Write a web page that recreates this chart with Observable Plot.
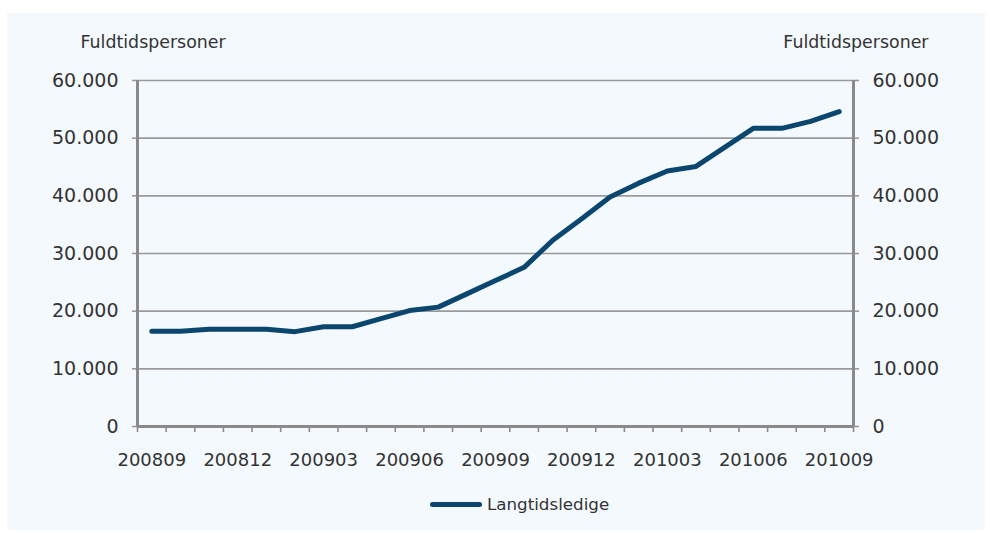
<!DOCTYPE html>
<html>
<head>
<meta charset="utf-8">
<script src="https://cdn.jsdelivr.net/npm/d3@7"></script>
<script src="https://cdn.jsdelivr.net/npm/@observablehq/plot@0.6"></script>
<style>
  html, body { margin: 0; padding: 0; background: #ffffff; }
  #wrap { position: relative; width: 990px; height: 533px; font-family: "DejaVu Sans", sans-serif; color: #333; }
  #panel { position: absolute; left: 7px; top: 13px; width: 978px; height: 517px; background: #f4f9fd; }
  #chart { position: absolute; left: 0; top: 0; }
  #legend { position: absolute; left: 430px; top: 494px; display: flex; align-items: center; font-size: 16.7px; color: #333; }
  #legend .sw { display: inline-block; width: 52px; height: 5px; border-radius: 3px; background: #0b466e; margin-right: 5px; }
</style>
</head>
<body>
<div id="wrap">
  <div id="panel"></div>
  <div id="chart"></div>
  <div id="legend"><span class="sw"></span><span>Langtidsledige</span></div>
</div>
<script>
const months = ["200809","200810","200811","200812","200901","200902","200903","200904","200905","200906","200907","200908","200909","200910","200911","200912","201001","201002","201003","201004","201005","201006","201007","201008","201009"];
const values = [16500,16500,16850,16850,16850,16450,17300,17300,18700,20100,20700,23000,25300,27600,32300,36000,39800,42200,44300,45100,48400,51700,51700,52900,54600];
const yTicks = [0,10000,20000,30000,40000,50000,60000];
const labelMonths = ["200809","200812","200903","200906","200909","200912","201003","201006","201009"];
const axisTitle = "Fuldtidspersoner";
const seriesName = "Langtidsledige";

const fmt = d3.formatLocale({thousands: ".", decimal: ",", grouping: [3], currency: ["", ""]}).format(",");
const idx = m => months.indexOf(m) + 0.5;
const data = values.map((v, i) => ({month: months[i], value: v}));
const grid = "#9a9a9a";
const axisCol = "#8a8a8a";

const chart = Plot.plot({
  width: 990,
  height: 480,
  marginLeft: 137,
  marginRight: 137,
  marginTop: 80,
  marginBottom: 54,
  style: {fontFamily: "'DejaVu Sans', sans-serif", fontSize: "18px", color: "#333", background: "transparent"},
  x: {type: "linear", domain: [0, months.length]},
  y: {domain: [0, 60000]},
  marks: [
    Plot.ruleY(yTicks.filter(d => d > 0), {stroke: grid, strokeWidth: 1.6}),
    Plot.axisY({anchor: "left", ticks: yTicks, tickFormat: fmt, tickSize: 5, tickPadding: 14, stroke: grid, strokeWidth: 1.6, label: null, fontSize: 19}),
    Plot.axisY({anchor: "right", ticks: yTicks, tickFormat: fmt, tickSize: 5, tickPadding: 14, stroke: grid, strokeWidth: 1.6, label: null, fontSize: 19}),
    Plot.axisX({ticks: d3.range(months.length + 1), tickFormat: () => "", tickSize: 6, stroke: axisCol, strokeWidth: 1.6, label: null}),
    Plot.axisX({ticks: labelMonths.map(idx), tickFormat: d => months[Math.round(d - 0.5)], tickSize: 0, tickPadding: 27, label: null, fontSize: 18}),
    Plot.ruleX([0, months.length], {stroke: axisCol, strokeWidth: 3}),
    Plot.ruleY([0], {stroke: axisCol, strokeWidth: 3}),
    Plot.line(data, {x: (d, i) => i + 0.5, y: "value", stroke: "#0b466e", strokeWidth: 5, strokeLinecap: "round", strokeLinejoin: "round"}),
    Plot.text([axisTitle], {frameAnchor: "top-left", textAnchor: "start", lineAnchor: "bottom", dx: -57, dy: -33, fontSize: 17.4, fill: "#333"}),
    Plot.text([axisTitle], {frameAnchor: "top-right", textAnchor: "end", lineAnchor: "bottom", dx: 75, dy: -33, fontSize: 17.4, fill: "#333"})
  ]
});
document.getElementById("chart").appendChild(chart);
</script>
</body>
</html>
